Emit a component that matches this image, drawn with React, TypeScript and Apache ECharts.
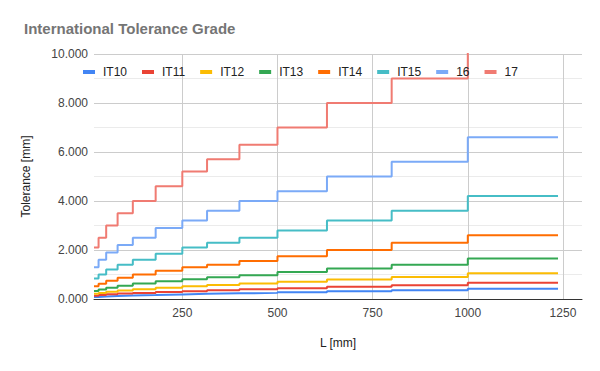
import React, { useEffect, useRef } from "react";
import * as echarts from "echarts";

const L = [18, 30, 50, 80, 120, 180, 250, 315, 400, 500, 630, 800, 1000, 1237];
const IT10 = [0.084, 0.1, 0.12, 0.14, 0.16, 0.185, 0.21, 0.23, 0.25, 0.28, 0.32, 0.36, 0.42, 0.42];
const IT11 = [0.13, 0.16, 0.19, 0.22, 0.25, 0.29, 0.32, 0.36, 0.4, 0.44, 0.5, 0.56, 0.66, 0.66];
const IT12 = [0.21, 0.25, 0.3, 0.35, 0.4, 0.46, 0.52, 0.57, 0.63, 0.7, 0.8, 0.9, 1.05, 1.05];
const IT13 = [0.33, 0.39, 0.46, 0.54, 0.63, 0.72, 0.81, 0.89, 0.97, 1.1, 1.25, 1.4, 1.65, 1.65];
const IT14 = [0.52, 0.62, 0.74, 0.87, 1.0, 1.15, 1.3, 1.4, 1.55, 1.75, 2.0, 2.3, 2.6, 2.6];
const IT15 = [0.84, 1.0, 1.2, 1.4, 1.6, 1.85, 2.1, 2.3, 2.5, 2.8, 3.2, 3.6, 4.2, 4.2];
const IT16 = [1.3, 1.6, 1.9, 2.2, 2.5, 2.9, 3.2, 3.6, 4.0, 4.4, 5.0, 5.6, 6.6, 6.6];
const IT17 = [2.1, 2.5, 3.0, 3.5, 4.0, 4.6, 5.2, 5.7, 6.3, 7.0, 8.0, 9.0, 10.5, 10.5];

const seriesNames = ["IT10", "IT11", "IT12", "IT13", "IT14", "IT15", "16", "17"];
const seriesValues = [IT10, IT11, IT12, IT13, IT14, IT15, IT16, IT17];
const colors = ["#4285F4", "#EA4335", "#FBBC04", "#34A853", "#FF6D01", "#46BDC6", "#7BAAF7", "#F07B72"];
const xTicks = [250, 500, 750, 1000, 1250];

const FONT = "'Liberation Sans', Arial, sans-serif";

export default function App() {
  const ref = useRef<HTMLDivElement>(null);
  useEffect(() => {
    if (!ref.current) return;
    const chart = echarts.init(ref.current, null, { renderer: "svg" });
    chart.setOption({
      animation: false,
      backgroundColor: "#ffffff",
      color: colors,
      title: {
        text: "International Tolerance Grade",
        left: 19,
        top: 16,
        textStyle: { fontFamily: FONT, fontSize: 15, fontWeight: "bold", color: "#757575" },
      },
      legend: {
        left: 78,
        top: 61,
        itemWidth: 12,
        itemHeight: 4,
        itemGap: 15,
        icon: "rect",
        data: seriesNames,
        textStyle: { fontFamily: FONT, fontSize: 12, color: "#222222", padding: [0, 0, 0, 3] },
      },
      grid: { left: 94, right: 18, top: 54, bottom: 72, containLabel: false },
      xAxis: {
        type: "value",
        min: 18,
        max: 1300,
        name: "L [mm]",
        nameLocation: "middle",
        nameGap: 38,
        nameTextStyle: { fontFamily: FONT, fontSize: 12, color: "#222222" },
        axisLine: { show: true, onZero: false, lineStyle: { color: "#333333", width: 1 } },
        axisTick: { show: false, customValues: xTicks },
        axisLabel: {
          customValues: xTicks,
          fontFamily: FONT,
          fontSize: 12,
          color: "#444444",
          margin: 8,
          formatter: (v: number) => String(v),
        },
        splitLine: { show: true, lineStyle: { color: "#cccccc", width: 1 } },
      },
      yAxis: {
        type: "value",
        min: 0,
        max: 10,
        interval: 2,
        name: "Tolerance [mm]",
        nameLocation: "middle",
        nameGap: 62,
        nameTextStyle: { fontFamily: FONT, fontSize: 12, color: "#222222" },
        axisLine: { show: false },
        axisTick: { show: false },
        axisLabel: {
          fontFamily: FONT,
          fontSize: 12,
          color: "#444444",
          margin: 6,
          formatter: (v: number) => v.toFixed(3),
        },
        splitLine: { show: true, lineStyle: { color: "#cccccc", width: 1 } },
        minorTick: { show: false, splitNumber: 2 },
        minorSplitLine: { show: true, lineStyle: { color: "#ebebeb", width: 1 } },
      },
      series: seriesNames.map((name, i) => ({
        name,
        type: "line",
        step: "end",
        showSymbol: false,
        symbol: "none",
        clip: true,
        lineStyle: { width: 2, color: colors[i] },
        itemStyle: { color: colors[i] },
        data: L.map((x, j) => [x, seriesValues[i][j]]),
      })),
    });
    return () => chart.dispose();
  }, []);
  return <div ref={ref} style={{ width: 600, height: 371, position: "absolute", left: 0, top: 0 }} />;
}
